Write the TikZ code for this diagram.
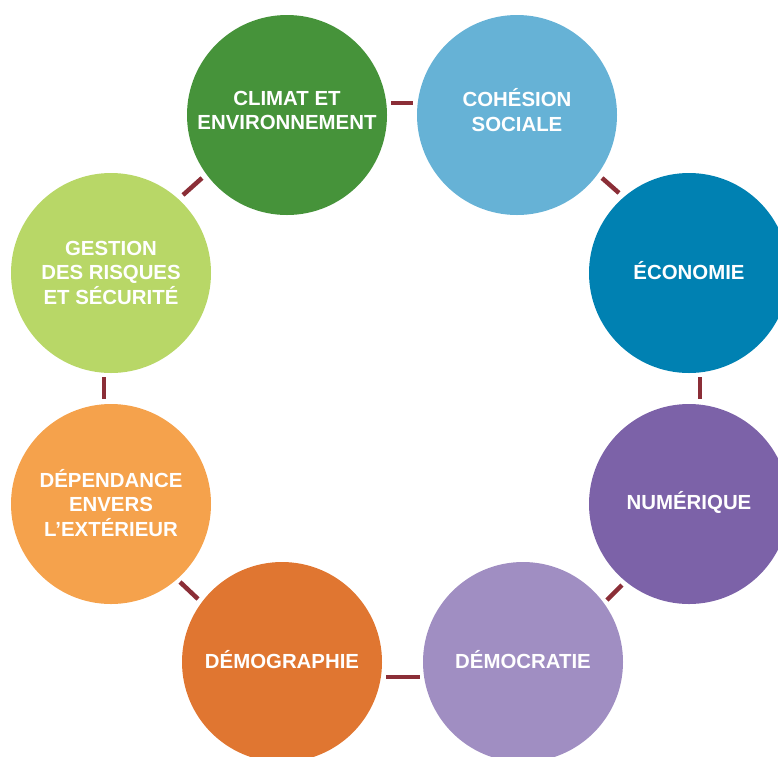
\documentclass[tikz,border=0pt]{standalone}
\usepackage{fontspec}
\setmainfont{Liberation Sans}
\usetikzlibrary{calc}
\definecolor{cclim}{HTML}{46933A}
\definecolor{ccoh}{HTML}{66B2D6}
\definecolor{ceco}{HTML}{0081B2}
\definecolor{cnum}{HTML}{7C62A8}
\definecolor{cdem}{HTML}{A08EC2}
\definecolor{cdgr}{HTML}{E07631}
\definecolor{cdep}{HTML}{F5A24C}
\definecolor{cges}{HTML}{B8D767}
\definecolor{connred}{HTML}{8B2E37}
\begin{document}
\begin{tikzpicture}[x=1pt,y=-1pt,
  bubble/.style={circle,minimum size=200pt,inner sep=0pt,outer sep=0pt,draw=none},
  lab/.style={text=white,align=center,inner sep=0pt,font=\bfseries\fontsize{20.4}{24.5}\selectfont},
  conn/.style={draw=connred,line width=4.5pt}]
\useasboundingbox (0,0) rectangle (778,756);
\clip (0,0) rectangle (778,756);
\node[bubble,fill=cclim] (clim) at (287,115) {};
\node[bubble,fill=ccoh] (coh) at (517,115) {};
\node[bubble,fill=ceco] (eco) at (689,273) {};
\node[bubble,fill=cnum] (num) at (689,504) {};
\node[bubble,fill=cdem] (dem) at (523,662) {};
\node[bubble,fill=cdgr] (dgr) at (282,662) {};
\node[bubble,fill=cdep] (dep) at (111,504) {};
\node[bubble,fill=cges] (ges) at (111,273) {};
\node[lab] (tclim) at (287,110.5) {CLIMAT ET\\ENVIRONNEMENT};
\node[lab] (tcoh) at (517,110) {COHÉSION\\SOCIALE};
\node[lab] (teco) at (689,271) {ÉCONOMIE};
\node[lab] (tnum) at (689,502.5) {NUMÉRIQUE};
\node[lab] (tdem) at (523,660) {DÉMOCRATIE};
\node[lab] (tdgr) at (282,660) {DÉMOGRAPHIE};
\node[lab] (tdep) at (111,503) {DÉPENDANCE\\ENVERS\\L’EXTÉRIEUR};
\node[lab] (tges) at (111,272.5) {GESTION\\DES RISQUES\\ET SÉCURITÉ};
\draw[conn] ($(clim)+(104,-12)$) -- ($(coh)+(-104,-12)$);
\draw[conn] ($(coh)+(85,63)$) -- ($(eco)+(-70,-80)$);
\draw[conn] ($(eco)+(11,104)$) -- ($(num)+(11,-105)$);
\draw[conn] ($(num)+(-67,81)$) -- ($(dem)+(84,-62)$);
\draw[conn] ($(dgr)+(104,15)$) -- ($(dem)+(-103,15)$);
\draw[conn] ($(dep)+(69,78)$) -- ($(dgr)+(-84,-63)$);
\draw[conn] ($(ges)+(-7,104)$) -- ($(dep)+(-7,-105)$);
\draw[conn] ($(ges)+(72,-78)$) -- ($(clim)+(-85,63)$);
\end{tikzpicture}
\end{document}
